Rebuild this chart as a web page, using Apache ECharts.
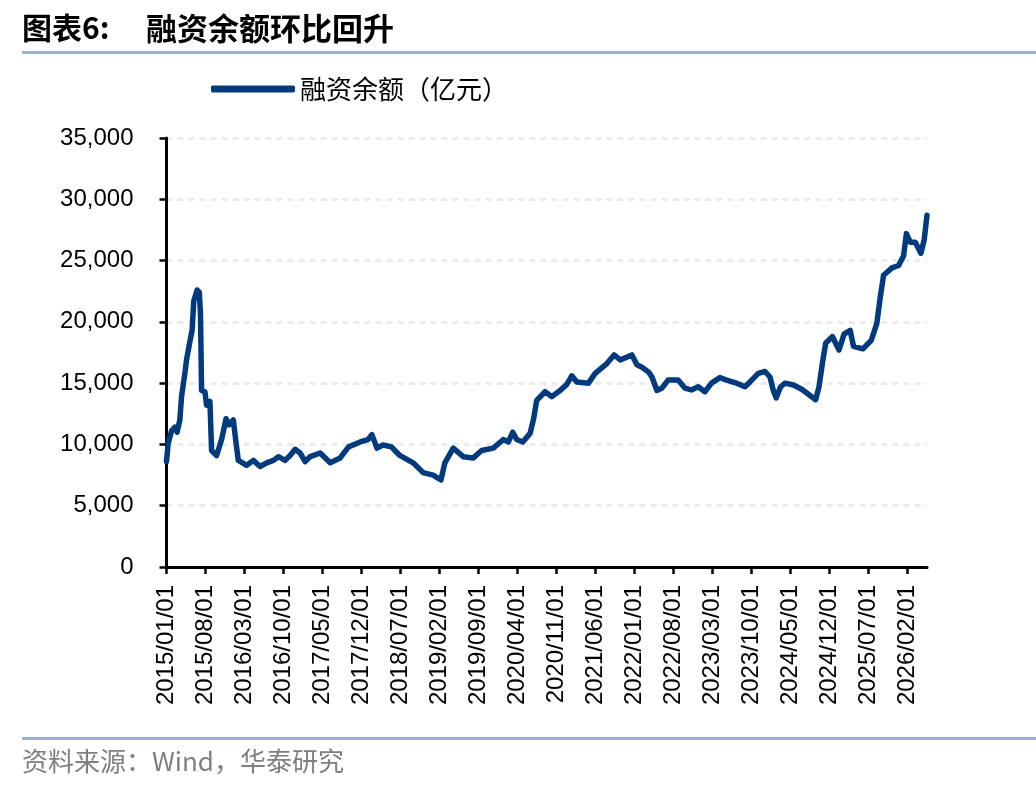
<!DOCTYPE html>
<html>
<head>
	<meta charset="UTF-8">
	<title>融资余额环比回升</title>
	<style type="text/css">
		html, body {
			margin: 0;
			padding: 0;
			background: #fff;
		}
		#chart {
			width: 1036px;
			height: 792px;
		}
	</style>
	<script type="text/javascript" src="https://cdn.jsdelivr.net/npm/echarts@6.0.0/dist/echarts.min.js"></script>
</head>
<body>
	<div id="chart"></div>
	<script>
		// 日期
		var dates = [
			'2015/01/01', '2015/01/10', '2015/01/28', '2015/02/16', '2015/02/28', '2015/03/13', '2015/03/22',
			'2015/04/10', '2015/04/19', '2015/05/07', '2015/05/19', '2015/05/28', '2015/06/16', '2015/06/28',
			'2015/07/04', '2015/07/10', '2015/07/28', '2015/08/07', '2015/08/25', '2015/09/04', '2015/10/01',
			'2015/10/28', '2015/11/22', '2015/12/07', '2016/01/01', '2016/01/16', '2016/01/28', '2016/03/13',
			'2016/04/19', '2016/05/25', '2016/07/01', '2016/08/07', '2016/09/04', '2016/10/10', '2016/11/07',
			'2016/12/04', '2017/01/01', '2017/01/28', '2017/02/25', '2017/04/19', '2017/06/13', '2017/08/07',
			'2017/09/22', '2017/11/25', '2018/01/07', '2018/01/28', '2018/02/25', '2018/03/28', '2018/05/13',
			'2018/06/28', '2018/09/10', '2018/11/04', '2018/12/28', '2019/02/10', '2019/03/01', '2019/04/16',
			'2019/06/10', '2019/08/04', '2019/09/19', '2019/11/22', '2020/01/16', '2020/02/13', '2020/03/07',
			'2020/03/28', '2020/05/01', '2020/06/10', '2020/06/28', '2020/07/16', '2020/09/01', '2020/10/07',
			'2020/11/22', '2020/12/28', '2021/01/25', '2021/02/22', '2021/04/25', '2021/06/01', '2021/08/04',
			'2021/09/13', '2021/10/16', '2021/12/19', '2022/01/16', '2022/02/13', '2022/03/19', '2022/04/07',
			'2022/05/04', '2022/06/01', '2022/07/04', '2022/08/28', '2022/10/04', '2022/11/10', '2022/12/16',
			'2023/01/22', '2023/02/28', '2023/04/13', '2023/05/19', '2023/07/13', '2023/08/28', '2023/09/25',
			'2023/11/10', '2023/12/16', '2024/01/13', '2024/02/01', '2024/02/16', '2024/03/10', '2024/04/04',
			'2024/05/19', '2024/07/04', '2024/08/10', '2024/09/19', '2024/10/07', '2024/10/25', '2024/11/13',
			'2024/12/19', '2025/01/25', '2025/02/22', '2025/03/25', '2025/04/13', '2025/06/04', '2025/07/19',
			'2025/08/19', '2025/09/07', '2025/09/25', '2025/11/10', '2025/12/16', '2026/01/13', '2026/01/28',
			'2026/02/19', '2026/03/16', '2026/04/16', '2026/05/04', '2026/05/19'
		];
		// 融资余额（亿元）
		var rzye = [
			8600, 10100, 11100, 11400, 11000, 12000, 13900,
			15800, 16900, 18400, 19300, 21700, 22600, 22400,
			20700, 14400, 14300, 13200, 13500, 9500, 9100,
			10400, 12100, 11600, 12000, 10100, 8700, 8300,
			8700, 8200, 8500, 8700, 9000, 8700, 9100,
			9600, 9300, 8600, 9000, 9300, 8500, 8900,
			9800, 10200, 10400, 10800, 9700, 9950, 9800,
			9100, 8500, 7700, 7500, 7100, 8500, 9700,
			9000, 8900, 9500, 9700, 10400, 10200, 11000,
			10400, 10200, 10900, 12000, 13600, 14300, 13900,
			14400, 14900, 15600, 15100, 15000, 15800, 16600,
			17300, 16900, 17300, 16500, 16300, 15900, 15500,
			14400, 14600, 15250, 15250, 14600, 14450, 14700,
			14300, 15000, 15450, 15250, 15000, 14700, 15100,
			15800, 15950, 15500, 14400, 13800, 14700, 15000,
			14850, 14500, 14100, 13650, 14700, 16600, 18250,
			18800, 17700, 19000, 19300, 18000, 17800, 18500,
			19900, 22000, 23800, 24400, 24600, 25400, 27200,
			26500, 26500, 25600, 26700, 28700
		];
		// 横轴刻度标签
		var tickLabels = [
			'2015/01/01', '2015/08/01', '2016/03/01', '2016/10/01', '2017/05/01',
			'2017/12/01', '2018/07/01', '2019/02/01', '2019/09/01', '2020/04/01',
			'2020/11/01', '2021/06/01', '2022/01/01', '2022/08/01', '2023/03/01',
			'2023/10/01', '2024/05/01', '2024/12/01', '2025/07/01', '2026/02/01'
		];

		// 日期 -> 自2015/01起的月数
		function toMonth(s) {
			var p = s.split('/');
			return (parseInt(p[0], 10) - 2015) * 12 + (parseInt(p[1], 10) - 1) + (parseInt(p[2], 10) - 1) / 30;
		}

		var tickValues = tickLabels.map(toMonth);
		var seriesData = [];
		for (var i = 0; i < dates.length; i++) {
			seriesData.push([toMonth(dates[i]), rzye[i]]);
		}
		var lastX = toMonth(dates[dates.length - 1]);

		var numFont = 'Arial, "Liberation Sans", sans-serif';
		var cjkFont = '"Noto Sans CJK SC", sans-serif';

		var echart = echarts.init(document.getElementById('chart'));
		var option = {
			animation: false,
			backgroundColor: '#fff',
			graphic: [
				{
					type: 'text',
					left: 22,
					top: 13,
					style: {
						text: '图表6:',
						font: 'bold 30px ' + cjkFont,
						fill: '#000'
					}
				},
				{
					type: 'text',
					left: 146,
					top: 13,
					style: {
						text: '融资余额环比回升',
						font: 'bold 31px ' + cjkFont,
						fill: '#000'
					}
				},
				{
					type: 'rect',
					shape: { x: 22, y: 51, width: 1014, height: 3 },
					style: { fill: '#9db3cb' }
				},
				{
					type: 'rect',
					shape: { x: 22, y: 737, width: 1014, height: 3 },
					style: { fill: '#9db3cb' }
				},
				{
					type: 'text',
					left: 22,
					top: 748,
					style: {
						text: '资料来源：Wind，华泰研究',
						font: '26px ' + cjkFont,
						fill: '#7f7f7f'
					}
				}
			],
			legend: {
				left: 206,
				top: 71,
				icon: 'roundRect',
				itemWidth: 84,
				itemHeight: 7,
				itemGap: 6,
				textStyle: {
					fontSize: 26,
					fontFamily: cjkFont,
					color: '#000',
					padding: [0, 0, 0, 0]
				},
				data: ['融资余额（亿元）']
			},
			grid: {
				left: 166.5,
				right: 109,
				top: 138,
				bottom: 225,
				containLabel: false
			},
			xAxis: {
				type: 'value',
				min: 0,
				max: lastX,
				interval: 7,
				axisLine: {
					show: true,
					lineStyle: { color: '#000', width: 3 }
				},
				axisTick: {
					show: true,
					customValues: tickValues,
					length: 7,
					lineStyle: { color: '#000', width: 2.5 }
				},
				axisLabel: {
					customValues: tickValues,
					rotate: 90,
					margin: 18,
					fontSize: 24,
					fontFamily: numFont,
					color: '#000',
					formatter: function (v) {
						var idx = Math.round(v / 7);
						if (Math.abs(v - idx * 7) > 0.01 || idx >= tickLabels.length) {
							return '';
						}
						return tickLabels[idx];
					}
				},
				splitLine: { show: false }
			},
			yAxis: {
				type: 'value',
				min: 0,
				max: 35000,
				interval: 5000,
				axisLine: {
					show: true,
					lineStyle: { color: '#000', width: 3 }
				},
				axisTick: {
					show: true,
					length: 7,
					lineStyle: { color: '#000', width: 2.5 }
				},
				axisLabel: {
					margin: 33,
					fontSize: 24,
					fontFamily: numFont,
					color: '#000',
					formatter: function (v) {
						return String(v).replace(/\B(?=(\d{3})+(?!\d))/g, ',');
					}
				},
				splitLine: {
					show: true,
					lineStyle: { color: '#ebebeb', width: 3, type: [6, 5] }
				}
			},
			series: [
				{
					name: '融资余额（亿元）',
					type: 'line',
					showSymbol: false,
					symbol: 'none',
					data: seriesData,
					itemStyle: { color: '#013b7e' },
					lineStyle: { color: '#013b7e', width: 5.5, cap: 'round', join: 'round' }
				}
			]
		};
		echart.setOption(option);
	</script>
</body>
</html>
